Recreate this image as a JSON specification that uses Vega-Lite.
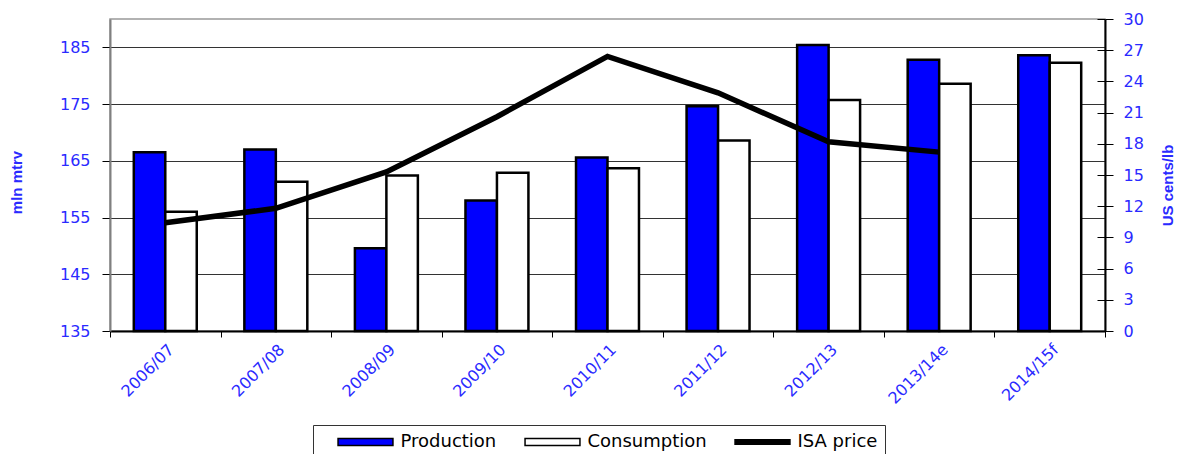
{
  "$schema": "https://vega.github.io/schema/vega-lite/v6.json",
  "width": 995,
  "height": 312,
  "autosize": {"type": "none"},
  "padding": {"left": 110, "top": 19, "right": 76, "bottom": 123},
  "background": "white",
  "config": {
    "view": {"stroke": "#999999", "strokeWidth": 1.5},
    "font": "DejaVu Sans"
  },
  "data": {
    "values": [
      {"season": "2006/07", "series": "Production", "value": 166.5},
      {"season": "2006/07", "series": "Consumption", "value": 156.0},
      {"season": "2006/07", "series": "ISA price", "value": 10.4},
      {"season": "2007/08", "series": "Production", "value": 167.0},
      {"season": "2007/08", "series": "Consumption", "value": 161.3},
      {"season": "2007/08", "series": "ISA price", "value": 11.8},
      {"season": "2008/09", "series": "Production", "value": 149.6},
      {"season": "2008/09", "series": "Consumption", "value": 162.4},
      {"season": "2008/09", "series": "ISA price", "value": 15.3},
      {"season": "2009/10", "series": "Production", "value": 158.0},
      {"season": "2009/10", "series": "Consumption", "value": 162.9},
      {"season": "2009/10", "series": "ISA price", "value": 20.6},
      {"season": "2010/11", "series": "Production", "value": 165.6},
      {"season": "2010/11", "series": "Consumption", "value": 163.7},
      {"season": "2010/11", "series": "ISA price", "value": 26.4},
      {"season": "2011/12", "series": "Production", "value": 174.6},
      {"season": "2011/12", "series": "Consumption", "value": 168.6},
      {"season": "2011/12", "series": "ISA price", "value": 22.9},
      {"season": "2012/13", "series": "Production", "value": 185.4},
      {"season": "2012/13", "series": "Consumption", "value": 175.7},
      {"season": "2012/13", "series": "ISA price", "value": 18.2},
      {"season": "2013/14e", "series": "Production", "value": 182.8},
      {"season": "2013/14e", "series": "Consumption", "value": 178.6},
      {"season": "2013/14e", "series": "ISA price", "value": 17.2},
      {"season": "2014/15f", "series": "Production", "value": 183.6},
      {"season": "2014/15f", "series": "Consumption", "value": 182.3}
    ]
  },
  "encoding": {
    "x": {
      "field": "season",
      "type": "nominal",
      "sort": null,
      "scale": {"paddingInner": 0, "paddingOuter": 0},
      "axis": {
        "title": null,
        "labelAngle": -45,
        "labelAlign": "right",
        "labelBaseline": "top",
        "labelFontSize": 16,
        "labelColor": "#2a2aff",
        "labelPadding": 4,
        "tickBand": "extent",
        "tickSize": 6,
        "tickColor": "black",
        "domainColor": "black",
        "domainWidth": 2,
        "grid": false
      }
    }
  },
  "layer": [
    {
      "transform": [{"filter": "datum.series !== 'ISA price'"}],
      "mark": {"type": "bar", "stroke": "black", "strokeWidth": 2.5},
      "encoding": {
        "xOffset": {"field": "series", "type": "nominal", "sort": ["Production", "Consumption"], "scale": {"paddingInner": 0, "paddingOuter": 0.756}},
        "y": {
          "field": "value",
          "type": "quantitative",
          "scale": {"domain": [135, 190], "nice": false, "zero": false},
          "axis": {
            "values": [135, 145, 155, 165, 175, 185],
            "grid": true,
            "gridColor": "#333333",
            "gridWidth": 1,
            "tickSize": 8,
            "tickColor": "black",
            "labelPadding": 12,
            "labelFontSize": 16,
            "labelColor": "#2a2aff",
            "domainColor": "#808080",
            "domainWidth": 2,
            "title": "mln mtrv",
            "titleFont": "Liberation Sans",
            "titleFontWeight": "bold",
            "titleFontSize": 15,
            "titleColor": "#2a2aff",
            "titlePadding": 35,
            "titleY": 163
          }
        },
        "y2": {"datum": 135},
        "color": {
          "field": "series",
          "type": "nominal",
          "scale": {"domain": ["Production", "Consumption", "ISA price"], "range": ["#0000ff", "#ffffff", "#000000"]},
          "legend": {
            "title": null,
            "orient": "none",
            "legendX": 203,
            "legendY": 406,
            "direction": "horizontal",
            "strokeColor": "#333333",
            "padding": 7,
            "symbolSize": 324,
            "symbolStrokeWidth": 1.5,
            "symbolStrokeColor": "black",
            "symbolType": "M-3.05,-0.4H3.05V0.4H-3.05Z",
            "symbolOffset": 35.5,
            "labelOffset": 25,
            "columnPadding": 10,
            "labelFontSize": 18,
            "labelColor": "black",
            "labelLimit": 300,
            "encode": {
              "symbols": {
                "update": {
                  "shape": {"signal": "datum.value === 'ISA price' ? 'M-3.05,-0.24H3.05V0.24H-3.05Z' : 'M-3.05,-0.4H3.05V0.4H-3.05Z'"},
                  "stroke": {"value": "black"},
                  "strokeWidth": {"value": 1.5}
                }
              }
            }
          }
        }
      }
    },
    {
      "transform": [{"filter": "datum.series === 'ISA price'"}],
      "mark": {"type": "line", "strokeWidth": 5.5, "color": "black"},
      "encoding": {
        "y": {
          "field": "value",
          "type": "quantitative",
          "scale": {"domain": [0, 30], "nice": false},
          "axis": {
            "orient": "right",
            "values": [0, 3, 6, 9, 12, 15, 18, 21, 24, 27, 30],
            "grid": false,
            "tickSize": 8,
            "tickColor": "black",
            "labelPadding": 10,
            "labelFontSize": 16,
            "labelColor": "#2a2aff",
            "domainColor": "black",
            "domainWidth": 2,
            "title": "US cents/lb",
            "titleAngle": 270,
            "titleFont": "Liberation Sans",
            "titleFontWeight": "bold",
            "titleFontSize": 15,
            "titleColor": "#2a2aff",
            "titlePadding": 32,
            "titleY": 166
          }
        }
      }
    },
    {
      "transform": [{"filter": "datum.series === 'ISA price'"}],
      "mark": {"type": "line", "opacity": 0},
      "encoding": {
        "y": {
          "field": "value",
          "type": "quantitative",
          "scale": {"domain": [0, 30], "nice": false},
          "axis": {
            "orient": "right",
            "values": [0, 3, 6, 9, 12, 15, 18, 21, 24, 27, 30],
            "grid": false,
            "domain": false,
            "labels": false,
            "title": null,
            "tickSize": -8,
            "tickColor": "black",
            "offset": 0
          }
        }
      }
    }
  ],
  "resolve": {"scale": {"y": "independent"}}
}
